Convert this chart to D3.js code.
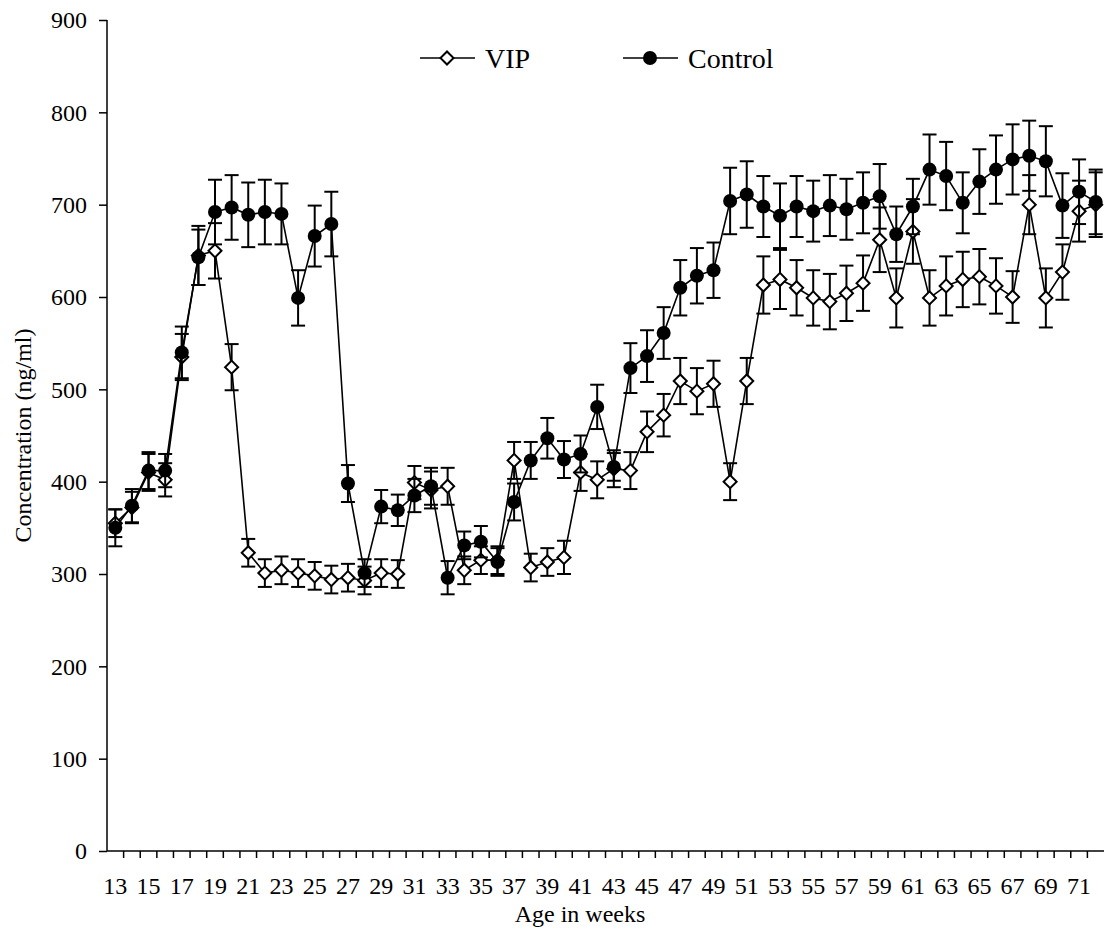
<!DOCTYPE html>
<html>
<head>
<meta charset="utf-8">
<script src="https://d3js.org/d3.v7.min.js"></script>
<style>
  body { margin: 0; background: #fff; }
  text { font-family: "Liberation Serif", "Times New Roman", serif; fill: #000; }
</style>
</head>
<body>
<script>
// age in weeks (categories)
const weeks = d3.range(13, 73);
const weekLabels = d3.range(13, 73, 2);
const yTicks = [0, 100, 200, 300, 400, 500, 600, 700, 800, 900];

// VIP group, mean and error (ng/ml)
const vipMean = [355, 372, 410, 402, 535, 645, 650, 524, 323, 301,
                 304, 301, 298, 294, 296, 293, 301, 300, 399, 391,
                 395, 304, 315, 315, 423, 307, 313, 318, 410, 402,
                 414, 412, 454, 472, 509, 498, 506, 400, 509, 613,
                 619, 610, 599, 595, 604, 615, 662, 599, 671, 599,
                 612, 619, 622, 612, 600, 700, 599, 627, 693, 700];
const vipErr = [15, 17, 20, 18, 25, 32, 30, 25, 15, 15,
                15, 15, 15, 15, 15, 15, 15, 15, 18, 20,
                20, 15, 15, 15, 20, 15, 15, 18, 20, 20,
                20, 20, 22, 23, 25, 25, 25, 20, 25, 31,
                32, 30, 30, 30, 30, 30, 35, 32, 35, 30,
                32, 30, 30, 30, 28, 32, 32, 30, 33, 35];

// Control group, mean and error (ng/ml)
const ctrlMean = [350, 374, 412, 412, 540, 643, 692, 697, 689, 692,
                  690, 599, 666, 679, 398, 301, 373, 369, 385, 395,
                  296, 331, 335, 313, 378, 423, 447, 424, 430, 481,
                  416, 523, 536, 561, 610, 623, 629, 704, 711, 698,
                  688, 698, 693, 699, 695, 702, 709, 668, 698, 738,
                  731, 702, 725, 738, 749, 753, 747, 699, 714, 703];
const ctrlErr = [20, 18, 20, 18, 28, 30, 35, 35, 35, 35,
                 33, 30, 33, 35, 20, 15, 18, 17, 18, 20,
                 18, 15, 17, 15, 20, 20, 22, 20, 20, 24,
                 15, 27, 28, 28, 30, 30, 30, 36, 36, 33,
                 35, 33, 33, 33, 33, 33, 35, 30, 30, 38,
                 37, 33, 35, 37, 38, 38, 38, 35, 35, 35];

const W = 1104, H = 930;
const mLeft = 107, mRight = 1104, mTop = 20, mBottom = 851;

const svg = d3.select("body").append("svg")
    .attr("width", W)
    .attr("height", H);

const x = d3.scaleBand().domain(weeks).range([mLeft, mRight]);
const y = d3.scaleLinear().domain([0, 900]).range([mBottom, mTop]);
const cx = w => x(w) + x.bandwidth() / 2;

// y axis
const yAxis = svg.append("g")
    .attr("transform", `translate(${mLeft},0)`)
    .call(d3.axisLeft(y).tickValues(yTicks).tickSize(8).tickPadding(12));
yAxis.select(".domain").attr("d", `M0,${mTop}V${mBottom}`).attr("stroke-width", 1.5);
yAxis.selectAll(".tick line").attr("stroke-width", 1.5);
yAxis.selectAll("text").attr("font-size", 24).attr("font-family", "Liberation Serif");

// x axis: ticks between categories, labels on odd weeks
const xAxis = svg.append("g").attr("transform", `translate(0,${mBottom})`);
xAxis.append("line")
    .attr("x1", mLeft).attr("x2", mRight)
    .attr("stroke", "#000").attr("stroke-width", 1.5);
xAxis.selectAll(".tk").data(weeks.slice(1))
  .join("line")
    .attr("class", "tk")
    .attr("x1", d => x(d))
    .attr("x2", d => x(d))
    .attr("y1", 0).attr("y2", 7)
    .attr("stroke", "#000").attr("stroke-width", 1.5);
xAxis.selectAll(".lbl").data(weekLabels)
  .join("text")
    .attr("class", "lbl")
    .attr("x", d => cx(d))
    .attr("y", 43)
    .attr("text-anchor", "middle")
    .attr("font-size", 24)
    .text(d => d);

// axis titles
svg.append("text")
    .attr("x", 580)
    .attr("y", 922)
    .attr("text-anchor", "middle")
    .attr("font-size", 24)
    .text("Age in weeks");

svg.append("text")
    .attr("transform", `translate(31,${(mTop + mBottom) / 2}) rotate(-90)`)
    .attr("text-anchor", "middle")
    .attr("font-size", 24)
    .text("Concentration (ng/ml)");

const line = d3.line().x(d => cx(d.w)).y(d => y(d.v));
const diamond = d3.symbol().type(d3.symbolSquare).size(85);

function drawSeries(mean, err, kind) {
    const data = weeks.map((w, i) => ({ w: w, v: mean[i], e: err[i] }));
    const g = svg.append("g");
    const eb = g.selectAll(".eb").data(data).join("g").attr("class", "eb");
    eb.append("line")
        .attr("x1", d => cx(d.w)).attr("x2", d => cx(d.w))
        .attr("y1", d => y(d.v - d.e)).attr("y2", d => y(d.v + d.e))
        .attr("stroke", "#000").attr("stroke-width", 2);
    [1, -1].forEach(s => {
        eb.append("line")
            .attr("x1", d => cx(d.w) - 7).attr("x2", d => cx(d.w) + 7)
            .attr("y1", d => y(d.v + s * d.e)).attr("y2", d => y(d.v + s * d.e))
            .attr("stroke", "#000").attr("stroke-width", 2);
    });
    g.append("path")
        .datum(data)
        .attr("d", line)
        .attr("fill", "none")
        .attr("stroke", "#000")
        .attr("stroke-width", 1.6);
    if (kind === "vip") {
        g.selectAll(".m").data(data).join("path")
            .attr("transform", d => `translate(${cx(d.w)},${y(d.v)}) rotate(45)`)
            .attr("d", diamond)
            .attr("fill", "#fff").attr("stroke", "#000").attr("stroke-width", 2);
    } else {
        g.selectAll(".m").data(data).join("circle")
            .attr("cx", d => cx(d.w)).attr("cy", d => y(d.v))
            .attr("r", 7).attr("fill", "#000");
    }
}

drawSeries(vipMean, vipErr, "vip");
drawSeries(ctrlMean, ctrlErr, "ctrl");

// legend
const legend = svg.append("g");
const legendItems = [
    { name: "VIP", kind: "vip", x: 420 },
    { name: "Control", kind: "ctrl", x: 623 }
];
legendItems.forEach(it => {
    const lg = legend.append("g").attr("transform", `translate(${it.x},58)`);
    lg.append("line").attr("x1", 0).attr("x2", 55)
        .attr("stroke", "#000").attr("stroke-width", 1.6);
    if (it.kind === "vip") {
        lg.append("path").attr("d", diamond)
            .attr("transform", "translate(27,0) rotate(45)")
            .attr("fill", "#fff").attr("stroke", "#000").attr("stroke-width", 2);
    } else {
        lg.append("circle").attr("cx", 27).attr("r", 7).attr("fill", "#000");
    }
    lg.append("text").attr("x", 65).attr("y", 10)
        .attr("font-size", 28).text(it.name);
});
</script>
</body>
</html>
